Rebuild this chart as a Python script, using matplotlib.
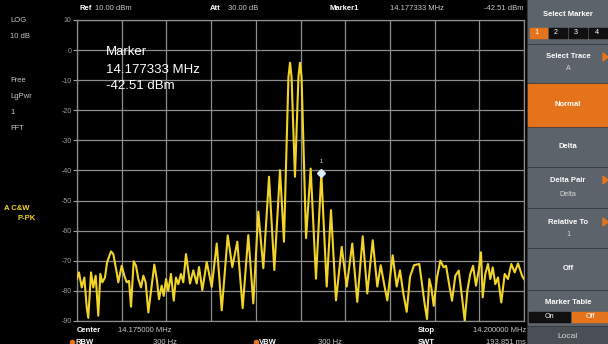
import matplotlib
matplotlib.use("Agg")
import matplotlib.pyplot as plt
from matplotlib.patches import Rectangle, Polygon

plt.rcParams['font.family'] = ['Liberation Sans', 'DejaVu Sans']

# trace vertices: offset from start frequency (kHz) and level (dBm)
start_mhz = 14.150
stop_mhz = 14.200
offset_khz = [0.00, 0.22, 0.53, 0.82, 1.09, 1.26, 1.57, 1.82, 2.09, 2.38,
              2.61, 2.83, 3.13, 3.36, 3.80, 4.06, 4.44, 4.62, 5.00, 5.29,
              5.56, 5.82, 6.04, 6.34, 6.60, 6.86, 7.16, 7.42, 7.68, 7.98,
              8.28, 8.65, 8.95, 9.17, 9.47, 9.70, 9.96, 10.21, 10.51, 10.82,
              11.07, 11.33, 11.63, 11.89, 12.19, 12.64, 13.01, 13.39, 13.65, 14.02,
              14.51, 15.07, 15.63, 16.19, 16.86, 17.37, 17.93, 18.53, 19.16, 19.72,
              20.28, 20.84, 21.48, 22.07, 22.71, 23.15, 23.65, 23.83, 24.00, 24.38,
              24.77, 24.94, 25.12, 25.62, 26.14, 26.73, 27.33, 27.93, 28.41, 28.97,
              29.61, 30.17, 30.79, 31.35, 31.96, 32.47, 33.08, 33.59, 33.97, 34.45,
              34.71, 35.31, 35.76, 36.13, 36.50, 36.88, 37.25, 37.70, 38.29, 38.59,
              38.89, 39.15, 39.41, 39.63, 39.90, 40.27, 40.64, 41.02, 41.28, 41.65,
              41.95, 42.32, 42.70, 43.07, 43.37, 43.66, 43.99, 44.30, 44.63, 44.93,
              45.19, 45.38, 45.67, 45.97, 46.23, 46.50, 46.79, 47.09, 47.46, 47.84,
              48.21, 48.58, 48.96, 49.33, 49.78, 50.00]
level_dbm = [-76.0, -73.9, -78.9, -75.6, -85.6, -89.0, -73.9, -78.9, -75.0, -88.3,
             -74.4, -77.2, -75.6, -70.6, -66.9, -67.8, -73.9, -77.2, -71.7, -75.0,
             -77.2, -76.7, -85.3, -70.2, -71.7, -76.1, -78.9, -75.0, -77.2, -87.2,
             -80.0, -71.3, -76.7, -82.8, -78.3, -81.7, -76.1, -80.0, -74.4, -83.3,
             -75.6, -77.8, -74.4, -77.2, -67.8, -77.6, -73.2, -77.6, -72.1, -79.8,
             -70.4, -78.7, -64.3, -86.5, -61.6, -72.1, -63.7, -85.8, -61.5, -84.2,
             -53.7, -72.5, -42.1, -73.1, -39.9, -63.7, -9.0, -4.2, -9.0, -42.1,
             -9.0, -4.2, -9.0, -62.5, -39.4, -76.0, -41.0, -78.6, -53.2, -83.2,
             -65.4, -78.6, -64.3, -83.7, -61.9, -80.9, -63.2, -78.6, -71.5, -79.3,
             -83.2, -68.2, -78.6, -73.2, -80.9, -87.0, -75.4, -71.5, -71.1, -77.8,
             -84.4, -89.4, -76.1, -78.9, -85.0, -75.6, -70.0, -72.2, -71.7, -78.3,
             -83.3, -75.0, -73.3, -82.2, -90.0, -80.0, -74.4, -71.7, -78.3, -73.3,
             -67.2, -82.2, -74.4, -71.1, -76.1, -72.2, -77.8, -75.6, -83.9, -74.4,
             -76.1, -71.1, -73.9, -70.9, -75.0, -76.1]

marker_mhz = 14.177333
marker_dbm = -41.0
marker_text = ["Marker", "14.177333 MHz", "-42.51 dBm"]
y_ticks = [10, 0, -10, -20, -30, -40, -50, -60, -70, -80, -90]

freq_mhz = [start_mhz + f / 1000.0 for f in offset_khz]

W, H = 608, 344
fig = plt.figure(figsize=(W / 100, H / 100), dpi=100, facecolor='black')

# overlay in pixel coords for the screen furniture
bg = fig.add_axes([0, 0, 1, 1])
bg.set_xlim(0, W)
bg.set_ylim(H, 0)
bg.axis('off')
bg.set_facecolor('black')

grey_txt = '#c8c8c8'
yellow = '#f2d428'
orange = '#e4731c'
panel = '#5d636a'

# left status column
for txt, y in [("LOG", 20), ("10 dB", 37), ("Free", 80), ("LgPwr", 97), ("1", 113), ("FFT", 128)]:
    bg.text(10, y, txt, color=grey_txt, fontsize=5.5, va='center')
bg.text(4, 208, "A C&W", color=yellow, fontsize=5.5, fontweight='bold', va='center')
bg.text(18, 218, "P-PK", color=yellow, fontsize=5.5, fontweight='bold', va='center')

# header line
bg.text(80, 8, "Ref", color='white', fontsize=5.5, fontweight='bold', va='center')
bg.text(95, 8, "10.00 dBm", color=grey_txt, fontsize=5.5, va='center')
bg.text(210, 8, "Att", color='white', fontsize=5.5, fontweight='bold', va='center')
bg.text(228, 8, "30.00 dB", color=grey_txt, fontsize=5.5, va='center')
bg.text(330, 8, "Marker1", color='white', fontsize=5.5, fontweight='bold', va='center')
bg.text(390, 8, "14.177333 MHz", color=grey_txt, fontsize=5.5, va='center')
bg.text(523, 8, "-42.51 dBm", color=grey_txt, fontsize=5.5, va='center', ha='right')

# footer
bg.text(77, 331, "Center", color='white', fontsize=5.5, fontweight='bold', va='center')
bg.text(118, 331, "14.175000 MHz", color=grey_txt, fontsize=5.5, va='center')
bg.text(418, 331, "Stop", color='white', fontsize=5.5, fontweight='bold', va='center')
bg.text(526, 331, "14.200000 MHz", color=grey_txt, fontsize=5.5, va='center', ha='right')
bg.plot([72], [342], 'o', color=orange, ms=3)
bg.text(75, 342, "RBW", color='white', fontsize=5.5, fontweight='bold', va='center')
bg.text(153, 342, "300 Hz", color=grey_txt, fontsize=5.5, va='center')
bg.plot([256], [342], 'o', color=orange, ms=3)
bg.text(259, 342, "VBW", color='white', fontsize=5.5, fontweight='bold', va='center')
bg.text(318, 342, "300 Hz", color=grey_txt, fontsize=5.5, va='center')
bg.text(418, 342, "SWT", color='white', fontsize=5.5, fontweight='bold', va='center')
bg.text(526, 342, "193.851 ms", color=grey_txt, fontsize=5.5, va='center', ha='right')

# soft-key panel
px0, px1 = 528, 608
bg.add_patch(Rectangle((px0 - 1, 0), px1 - px0 + 1, H, color='#2a2d31'))
buttons = [(0, 43, panel), (45, 82, panel), (84, 126, orange), (128, 166, panel),
           (168, 207, panel), (209, 247, panel), (249, 289, panel), (291, 325, panel),
           (327, 344, '#4a4f55')]
for y0, y1, c in buttons:
    bg.add_patch(Rectangle((px0, y0), px1 - px0, y1 - y0, color=c))
cx = (px0 + px1) / 2
bt = dict(color='white', fontsize=5.5, fontweight='bold', ha='center', va='center')
st = dict(color='#d8d8d8', fontsize=5.2, ha='center', va='center')
bg.text(cx, 15, "Select Marker", **bt)
for i, (x0, x1) in enumerate([(530, 547), (549, 567), (569, 587), (589, 608)]):
    bg.add_patch(Rectangle((x0, 28), x1 - x0, 10, color=orange if i == 0 else '#101010'))
    bg.text((x0 + x1) / 2 - 2, 33, str(i + 1), color='white', fontsize=5.2, ha='center', va='center')
bg.text(cx, 57, "Select Trace", **bt)
bg.text(cx, 69, "A", **st)
bg.text(cx, 104, "Normal", **bt)
bg.text(cx, 146, "Delta", **bt)
bg.text(cx, 180, "Delta Pair", **bt)
bg.text(cx, 194, "Delta", **st)
bg.text(cx, 222, "Relative To", **bt)
bg.text(cx, 235, "1", **st)
bg.text(cx, 268, "Off", **bt)
bg.text(cx, 303, "Marker Table", **bt)
bg.add_patch(Rectangle((529, 312), 41, 10, color='#101010'))
bg.add_patch(Rectangle((572, 312), 36, 10, color=orange))
bg.text(549, 317, "On", color='white', fontsize=5.2, ha='center', va='center')
bg.text(590, 317, "Off", color='white', fontsize=5.2, ha='center', va='center')
bg.text(cx, 337, "Local", color='#d8d8d8', fontsize=6, ha='center', va='center')
for ya in (57, 180, 222):
    bg.add_patch(Polygon([(603, ya - 4), (608, ya), (603, ya + 4)], color=orange))

# spectrum display
ax = fig.add_axes([77 / W, 1 - 321 / H, (524 - 77) / W, (321 - 20) / H])
ax.set_facecolor('black')
ax.set_xlim(start_mhz, stop_mhz)
ax.set_ylim(-90.05, 10.0)
ax.set_xticks([start_mhz + i * 0.005 for i in range(11)])
ax.set_xticklabels([])
ax.set_yticks(y_ticks)
ax.set_yticklabels([str(v) for v in y_ticks])
ax.tick_params(axis='y', colors='#a0a0a0', labelsize=5, length=3, width=0.8, pad=1)
ax.tick_params(axis='x', length=0)
ax.grid(True, color='#8e8e8e', linewidth=0.9)
for s in ax.spines.values():
    s.set_color('#8e8e8e')
    s.set_linewidth(0.9)

ax.plot(freq_mhz, level_dbm, color=yellow, linewidth=1.5, zorder=3)
ax.plot([marker_mhz], [marker_dbm], marker='D', color='#dbeeff', ms=4, zorder=4)
ax.text(marker_mhz, marker_dbm + 3, "1", color='#dbeeff', fontsize=4, ha='center', va='bottom')

ax.text(0.065, 0.895, marker_text[0], transform=ax.transAxes, color='white', fontsize=9.5, va='center')
ax.text(0.065, 0.835, marker_text[1], transform=ax.transAxes, color='white', fontsize=9.5, va='center')
ax.text(0.065, 0.78, marker_text[2], transform=ax.transAxes, color='white', fontsize=9.5, va='center')

fig.savefig("out.png", dpi=100, facecolor='black')
